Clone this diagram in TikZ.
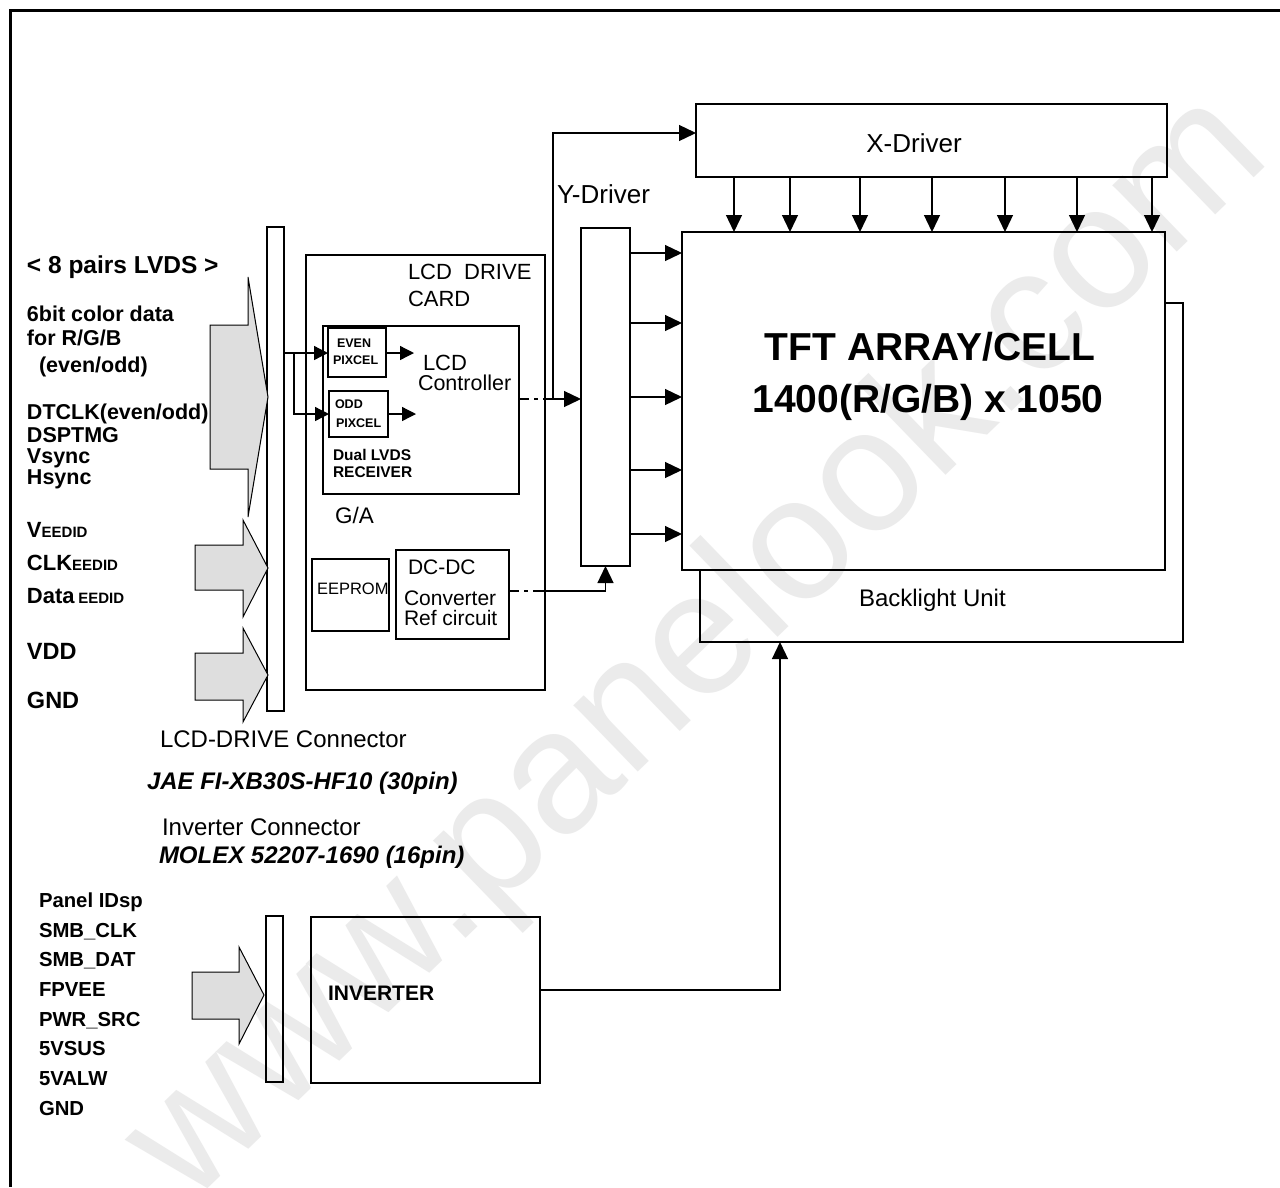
\documentclass[tikz,border=0pt]{standalone}
\usepackage{fontspec}
\setmainfont{Liberation Sans}
\usetikzlibrary{arrows.meta}
\newcommand{\fs}[1]{\fontsize{#1}{#1}\selectfont}
\begin{document}
\begin{tikzpicture}[x=1pt,y=-1pt,
  every node/.style={inner sep=0pt,outer sep=0pt},
  bx/.style={draw,line width=2.3pt,anchor=north west},
  tb/.style={draw,line width=1.3pt,anchor=north west},
  ln/.style={line width=1.3pt},
  arr/.style={ln,-{Triangle[length=17pt,width=16pt]}},
  sarr/.style={ln,-{Triangle[length=14pt,width=14pt]}},
  lbl/.style={anchor=base west,font=\bfseries\fs{21.5}},
  txt/.style={anchor=base west},
  bigarrow/.style={draw,line width=1pt,fill=black!13},
  mixdash/.style={dash pattern=on 10pt off 5pt on 4pt off 5pt on 400pt}
]
\useasboundingbox (0,0) rectangle (1280,1187);
\fill[white] (0,0) rectangle (1280,1187);
% watermark
\node[rotate=44,font=\fs{175},text=black!8] (wm) at (700,650) {www.panelook.com};
% frame
\draw[line width=3pt] (1280,10) -- (10,10) -- (10,1187);

% boxes
\node[bx,minimum width=471,minimum height=73] (xdrv) at (696,104) {};
\node[font=\fs{26}] (xlbl) at (914,143) {X-Driver};
\node[bx,minimum width=483,minimum height=338] (tft) at (682,232) {};
\node[font=\bfseries\fs{39},anchor=base] (tft1) at (930,360) {TFT ARRAY/CELL};
\node[font=\bfseries\fs{39},anchor=base] (tft2) at (928,412) {1400(R/G/B) x 1050};
\node[txt,font=\fs{24}] (bllbl) at (859,606) {Backlight Unit};
\node[bx,minimum width=49,minimum height=338] (ydrv) at (581,228) {};
\node[txt,font=\fs{26}] (ylbl) at (557,203) {Y-Driver};

\node[bx,minimum width=239,minimum height=435] (card) at (306,255) {};
\node[txt,font=\fs{22}] (card1) at (408,279) {LCD\ \ DRIVE};
\node[txt,font=\fs{22}] (card2) at (408,306) {CARD};
\node[bx,minimum width=196,minimum height=168] (ga) at (323,326) {};
\node[txt,font=\fs{22.5}] (galbl) at (335,523) {G/A};
\node[tb,minimum width=58,minimum height=49] (even) at (328,328) {};
\node[txt,font=\bfseries\fs{12.5}] (even1) at (337,347) {EVEN};
\node[txt,font=\bfseries\fs{12.5}] (even2) at (333,364) {PIXCEL};
\node[tb,minimum width=59,minimum height=46] (odd) at (329,391) {};
\node[txt,font=\bfseries\fs{12.5}] (odd1) at (335,408) {ODD};
\node[txt,font=\bfseries\fs{12.5}] (odd2) at (336,427) {PIXCEL};
\node[txt,font=\fs{22}] (ctl1) at (423,370) {LCD};
\node[txt,font=\fs{21.5}] (ctl2) at (418,390) {Controller};
\node[txt,font=\bfseries\fs{15.5}] (rx1) at (333,460) {Dual LVDS};
\node[txt,font=\bfseries\fs{15.5}] (rx2) at (333,477) {RECEIVER};
\node[tb,minimum width=77,minimum height=72] (eep) at (312,559) {};
\node[txt,font=\fs{16.5}] (eeplbl) at (317,594) {EEPROM};
\node[draw,line width=1.9pt,anchor=north west,minimum width=113,minimum height=89] (dcdc) at (396,550) {};
\node[txt,font=\fs{21}] (dc1) at (408,574) {DC-DC};
\node[txt,font=\fs{21}] (dc2) at (404,605) {Converter};
\node[txt,font=\fs{21}] (dc3) at (404,625) {Ref circuit};

\node[tb,minimum width=17,minimum height=484] (lconn) at (267,227) {};
\node[tb,minimum width=17,minimum height=166] (iconn) at (266,916) {};
\node[draw,line width=1.6pt,anchor=north west,minimum width=229,minimum height=166] (inv) at (311,917) {};
\node[txt,font=\bfseries\fs{21}] (invlbl) at (328,1000) {INVERTER};

% connectors
\foreach \x in {734,790,860,932,1005,1077,1152}
  \draw[arr] (xdrv.south -| \x,0) -- (tft.north -| \x,0);
\foreach \y in {253,323,397,470,534}
  \draw[arr] (ydrv.east |- 0,\y) -- (tft.west |- 0,\y);
\coordinate (jn) at (553,399);
\draw[arr,mixdash] (ga.east |- 0,399) -- (ydrv.west |- 0,399);
\draw[arr] (jn) |- (xdrv.west |- 0,133);
\draw[arr,mixdash] (dcdc.east |- 0,591) -| (ydrv.south);
\coordinate (br) at (294,353);
\draw[sarr] (lconn.east |- 0,353) -- (even.west |- 0,353);
\draw[sarr] (br) |- (odd.west |- 0,414);
\coordinate (evout) at (414,353);
\coordinate (odout) at (416,414);
\draw[sarr] (even.east |- 0,353) -- (evout);
\draw[sarr] (odd.east |- 0,414) -- (odout);
\coordinate (bl1) at (1183,303);
\coordinate (bl2) at (1183,642);
\coordinate (bl3) at (700,642);
\draw[line width=1.2pt] (tft.east |- bl1) -- (bl1) -- (bl2) -- (bl3) -- (tft.south -| bl3);
\coordinate (blb) at (780,642);
\draw[arr] (inv.east |- 0,990) -| (blb);

% big input arrows
\draw[bigarrow] (210,325) -- (248,325) -- (248,277) -- (268,397) -- (248,517) -- (248,469) -- (210,469) -- cycle;
\draw[bigarrow] (195,545) -- (243,545) -- (243,520) -- (268,568) -- (243,617) -- (243,590) -- (195,590) -- cycle;
\draw[bigarrow] (195,653) -- (243,653) -- (243,628) -- (268,675) -- (243,722) -- (243,700) -- (195,700) -- cycle;
\draw[bigarrow] (192,972) -- (239,972) -- (239,947) -- (264,995) -- (239,1044) -- (239,1019) -- (192,1019) -- cycle;

% left labels
\node[lbl,font=\bfseries\fs{24.5}] (l0) at (27,273) {< 8 pairs LVDS >};
\node[lbl] (l1) at (27,321) {6bit color data};
\node[lbl] (l2) at (27,345) {for R/G/B};
\node[lbl] (l3) at (39,372) {(even/odd)};
\node[lbl] (l4) at (27,419) {DTCLK(even/odd)};
\node[lbl] (l5) at (27,442) {DSPTMG};
\node[lbl] (l6) at (27,463) {Vsync};
\node[lbl] (l7) at (27,484) {Hsync};
\node[lbl] (l8) at (27,537) {{\fs{22}V}{\fs{15}EEDID}};
\node[lbl] (l9) at (27,570) {{\fs{22}CLK}{\fs{15}EEDID}};
\node[lbl] (l10) at (27,603) {{\fs{22}Data}\,{\fs{15}EEDID}};
\node[lbl,font=\bfseries\fs{23.5}] (l11) at (27,659) {VDD};
\node[lbl,font=\bfseries\fs{23.5}] (l12) at (27,708) {GND};

\node[txt,font=\fs{24}] (c1) at (160,747) {LCD-DRIVE Connector};
\node[txt,font=\bfseries\itshape\fs{24}] (c2) at (147,789) {JAE FI-XB30S-HF10 (30pin)};
\node[txt,font=\fs{24}] (c3) at (162,835) {Inverter Connector};
\node[txt,font=\bfseries\itshape\fs{24}] (c4) at (159,863) {MOLEX 52207-1690 (16pin)};

\node[lbl,font=\bfseries\fs{20.3}] (b1) at (39,907) {Panel IDsp};
\node[lbl,font=\bfseries\fs{20.3}] (b2) at (39,937) {SMB\_CLK};
\node[lbl,font=\bfseries\fs{20.3}] (b3) at (39,966) {SMB\_DAT};
\node[lbl,font=\bfseries\fs{20.3}] (b4) at (39,996) {FPVEE};
\node[lbl,font=\bfseries\fs{20.3}] (b5) at (39,1026) {PWR\_SRC};
\node[lbl,font=\bfseries\fs{20.3}] (b6) at (39,1055) {5VSUS};
\node[lbl,font=\bfseries\fs{20.3}] (b7) at (39,1085) {5VALW};
\node[lbl,font=\bfseries\fs{20.3}] (b8) at (39,1115) {GND};
\end{tikzpicture}
\end{document}
